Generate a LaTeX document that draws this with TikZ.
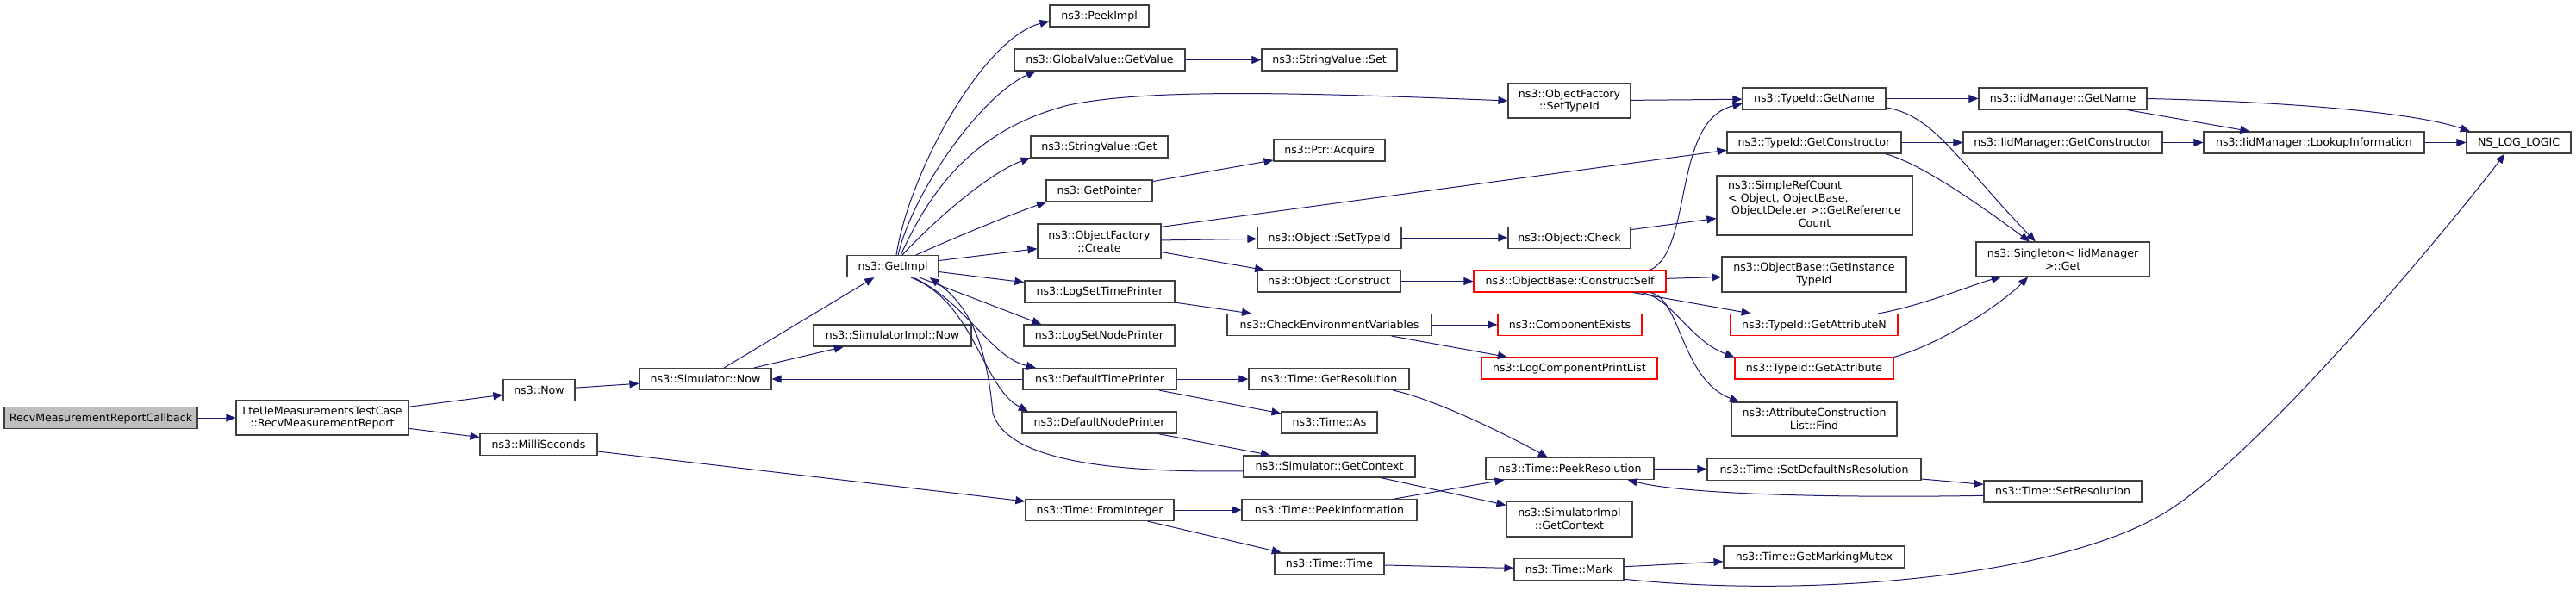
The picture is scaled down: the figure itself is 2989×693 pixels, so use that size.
\documentclass[tikz,border=0pt]{standalone}
\usepackage{fontspec}
\setmainfont{DejaVu Sans}
\usepackage{tikz}
\usepackage{xcolor}
\usetikzlibrary{arrows.meta}
\definecolor{edgeblue}{HTML}{191970}
\definecolor{boxgray}{HTML}{404040}
\definecolor{rootgray}{HTML}{BFBFBF}
\tikzset{
  fnbox/.style={draw=boxgray,line width=1.15pt,fill=white,inner sep=2pt,minimum height=25,
    text height=11pt,text depth=2.4pt,font=\fontsize{12.6}{14.7}\selectfont},
  fnbox2/.style={draw=boxgray,line width=1.15pt,fill=white,inner sep=2pt,align=center,
    font=\fontsize{12.6}{14.7}\selectfont},
  callarrow/.style={draw=edgeblue,line width=1pt,-{Triangle[length=11pt,width=9pt]}}
}
\begin{document}
\begin{tikzpicture}[x=1pt,y=-1pt]
        \useasboundingbox (0,0) rectangle (2989,693);
        \node[fnbox,fill=rootgray,minimum width=224](cb) at (117,485) {RecvMeasurementReportCallback};
        \node[fnbox2,minimum width=200,minimum height=40](recv) at (374,485) {LteUeMeasurementsTestCase\\::RecvMeasurementReport};
        \node[fnbox,minimum width=83](now) at (625.5,453) {ns3::Now};
        \node[fnbox,minimum width=136](milli) at (625,516) {ns3::MilliSeconds};
        \node[fnbox,minimum width=153](simnow) at (818.5,440) {ns3::Simulator::Now};
        \node[fnbox,minimum width=183](simimplnow) at (1035.5,389.5) {ns3::SimulatorImpl::Now};
        \node[fnbox,minimum width=106](getimpl) at (1036,309) {ns3::GetImpl};
        \node[fnbox,minimum width=115](peekimpl) at (1275.5,18.5) {ns3::PeekImpl};
        \node[fnbox,minimum width=198](gvget) at (1276,69.5) {ns3::GlobalValue::GetValue};
        \node[fnbox,minimum width=157](svset) at (1542.5,69.5) {ns3::StringValue::Set};
        \node[fnbox,minimum width=159](svget) at (1275.5,170.5) {ns3::StringValue::Get};
        \node[fnbox,minimum width=123](getptr) at (1275.5,221.5) {ns3::GetPointer};
        \node[fnbox,minimum width=129](acquire) at (1542.5,174.5) {ns3::Ptr::Acquire};
        \node[fnbox2,minimum width=143,minimum height=40](create) at (1275.5,280) {ns3::ObjectFactory\\::Create};
        \node[fnbox,minimum width=167](objsettid) at (1542.5,276) {ns3::Object::SetTypeId};
        \node[fnbox,minimum width=166](construct) at (1542,326.5) {ns3::Object::Construct};
        \node[fnbox,minimum width=174](logtime) at (1276,338.5) {ns3::LogSetTimePrinter};
        \node[fnbox,minimum width=175](lognode) at (1275.5,389.5) {ns3::LogSetNodePrinter};
        \node[fnbox,minimum width=178](dtp) at (1276,440) {ns3::DefaultTimePrinter};
        \node[fnbox,minimum width=179](dnp) at (1275.5,490.5) {ns3::DefaultNodePrinter};
        \node[fnbox,minimum width=172](fromint) at (1276,592) {ns3::Time::FromInteger};
        \node[fnbox,minimum width=237](checkenv) at (1542.5,377) {ns3::CheckEnvironmentVariables};
        \node[fnbox,minimum width=186](getres) at (1542,440) {ns3::Time::GetResolution};
        \node[fnbox,minimum width=111](as) at (1542.5,490.5) {ns3::Time::As};
        \node[fnbox,minimum width=199](simgetctx) at (1542.5,541.5) {ns3::Simulator::GetContext};
        \node[fnbox,minimum width=203](peekinfo) at (1542.5,592) {ns3::Time::PeekInformation};
        \node[fnbox,minimum width=127](timetime) at (1542.5,654.5) {ns3::Time::Time};
        \node[fnbox2,minimum width=142,minimum height=40](ofsettid) at (1821,117) {ns3::ObjectFactory\\::SetTypeId};
        \node[fnbox,minimum width=142](check) at (1821,276) {ns3::Object::Check};
        \node[fnbox,draw=red,minimum width=223](cself) at (1821.5,326.5) {ns3::ObjectBase::ConstructSelf};
        \node[fnbox,draw=red,minimum width=167](compexists) at (1821.5,377) {ns3::ComponentExists};
        \node[fnbox,draw=red,minimum width=204](logcomp) at (1821,427.5) {ns3::LogComponentPrintList};
        \node[fnbox,minimum width=195](peekres) at (1821.5,544) {ns3::Time::PeekResolution};
        \node[fnbox2,minimum width=146,minimum height=41](simimplctx) at (1821,602.5) {ns3::SimulatorImpl\\::GetContext};
        \node[fnbox,minimum width=127](mark) at (1820.5,661) {ns3::Time::Mark};
        \node[fnbox,minimum width=166](tgetname) at (2105,114.5) {ns3::TypeId::GetName};
        \node[fnbox,minimum width=202](tgetctor) at (2105,165.5) {ns3::TypeId::GetConstructor};
        \node[fnbox2,minimum width=227,minimum height=69](simpleref) at (2105.5,238.5) {\begin{tabular}{@{}l@{}}ns3::SimpleRefCount\\< Object, ObjectBase,\\\ ObjectDeleter >::GetReference\\\multicolumn{1}{@{}c@{}}{Count}\end{tabular}};
        \node[fnbox2,minimum width=214,minimum height=41](instid) at (2105,318.5) {ns3::ObjectBase::GetInstance\\TypeId};
        \node[fnbox,draw=red,minimum width=194](attrn) at (2105,377) {ns3::TypeId::GetAttributeN};
        \node[fnbox,draw=red,minimum width=184](attr) at (2105,427.5) {ns3::TypeId::GetAttribute};
        \node[fnbox2,minimum width=192,minimum height=39](find) at (2105,486.5) {ns3::AttributeConstruction\\List::Find};
        \node[fnbox,minimum width=248](setdefns) at (2105,545) {ns3::Time::SetDefaultNsResolution};
        \node[fnbox,minimum width=210](mutex) at (2105,646.5) {ns3::Time::GetMarkingMutex};
        \node[fnbox,minimum width=195](iidname) at (2393.5,114.5) {ns3::IidManager::GetName};
        \node[fnbox,minimum width=231](iidctor) at (2393.5,165.5) {ns3::IidManager::GetConstructor};
        \node[fnbox2,minimum width=201,minimum height=40](singleton) at (2393.5,301) {ns3::Singleton< IidManager\\>::Get};
        \node[fnbox,minimum width=183](setres) at (2393.5,570.5) {ns3::Time::SetResolution};
        \node[fnbox,minimum width=256](lookup) at (2685,165.5) {ns3::IidManager::LookupInformation};
        \node[fnbox,minimum width=121](nslog) at (2922.5,165.5) {NS\_LOG\_LOGIC};
        \draw[callarrow](cb)--(recv);
        \draw[callarrow](recv)--(now);
        \draw[callarrow](recv)--(milli);
        \draw[callarrow](now)--(simnow);
        \draw[callarrow](simnow)--(getimpl);
        \draw[callarrow](simnow.13)--(simimplnow.193);
        \draw[callarrow](getimpl.73) .. controls (1055,200) and (1140,45) .. (peekimpl.186);
        \draw[callarrow](getimpl.65) .. controls (1060,220) and (1140,110) .. (gvget.190);
        \draw[callarrow](getimpl.55) .. controls (1080,220) and (1130,150) .. (1240,122) .. controls (1330,103) and (1500,107) .. (ofsettid.west);
        \draw[callarrow](getimpl.50) .. controls (1090,250) and (1150,200) .. (svget.189);
        \draw[callarrow](getimpl.26) .. controls (1110,275) and (1170,250) .. (getptr.192);
        \draw[callarrow](getimpl)--(create);
        \draw[callarrow](getimpl)--(logtime);
        \draw[callarrow](getimpl.337)--(lognode.169);
        \draw[callarrow](getimpl.331) .. controls (1120,350) and (1150,415) .. (dtp.170);
        \draw[callarrow](getimpl.328) .. controls (1130,350) and (1140,450) .. (dnp.171);
        \draw[callarrow](simgetctx.183) .. controls (1290,549) and (1170,535) .. (1152,480) .. controls (1145,400) and (1125,355) .. (getimpl.343);
        \draw[callarrow](dtp)--(simnow);
        \draw[callarrow](gvget)--(svset);
        \draw[callarrow](getptr)--(acquire);
        \draw[callarrow](create.13)--(tgetctor.185);
        \draw[callarrow](create)--(objsettid);
        \draw[callarrow](create)--(construct);
        \draw[callarrow](logtime)--(checkenv);
        \draw[callarrow](dtp)--(getres);
        \draw[callarrow](dtp)--(as);
        \draw[callarrow](dnp)--(simgetctx);
        \draw[callarrow](milli)--(fromint);
        \draw[callarrow](fromint)--(peekinfo);
        \draw[callarrow](fromint)--(timetime);
        \draw[callarrow](ofsettid)--(tgetname);
        \draw[callarrow](objsettid)--(check);
        \draw[callarrow](check)--(simpleref);
        \draw[callarrow](construct)--(cself);
        \draw[callarrow](cself.8) .. controls (1965,290) and (1940,140) .. (tgetname.184);
        \draw[callarrow](cself)--(instid);
        \draw[callarrow](cself)--(attrn);
        \draw[callarrow](cself.351) .. controls (1940,345) and (1960,395) .. (attr.172);
        \draw[callarrow](cself.352) .. controls (1950,345) and (1950,440) .. (find.167);
        \draw[callarrow](checkenv)--(compexists);
        \draw[callarrow](checkenv)--(logcomp);
        \draw[callarrow](getres.350) .. controls (1660,462) and (1740,500) .. (peekres.153);
        \draw[callarrow](simgetctx)--(simimplctx);
        \draw[callarrow](peekinfo)--(peekres);
        \draw[callarrow](timetime)--(mark);
        \draw[callarrow](peekres)--(setdefns);
        \draw[callarrow](setres.183) .. controls (2150,578) and (1960,575) .. (peekres.349);
        \draw[callarrow](setdefns)--(setres);
        \draw[callarrow](mark)--(mutex);
        \draw[callarrow](mark.350) .. controls (2100,695) and (2400,670) .. (2520,590) .. controls (2640,510) and (2860,240) .. (nslog.219);
        \draw[callarrow](tgetname)--(iidname);
        \draw[callarrow](tgetname.353) .. controls (2245,135) and (2270,185) .. (singleton.147);
        \draw[callarrow](tgetctor)--(iidctor);
        \draw[callarrow](tgetctor.351) .. controls (2230,190) and (2300,240) .. (singleton.152);
        \draw[callarrow](attrn.10) .. controls (2230,355) and (2290,330) .. (singleton.196);
        \draw[callarrow](attr.8) .. controls (2250,400) and (2320,355) .. (singleton.207);
        \draw[callarrow](iidname.east) .. controls (2650,118) and (2800,130) .. (nslog.167);
        \draw[callarrow](iidname)--(lookup);
        \draw[callarrow](iidctor)--(lookup);
        \draw[callarrow](lookup)--(nslog);
\end{tikzpicture}
\end{document}
